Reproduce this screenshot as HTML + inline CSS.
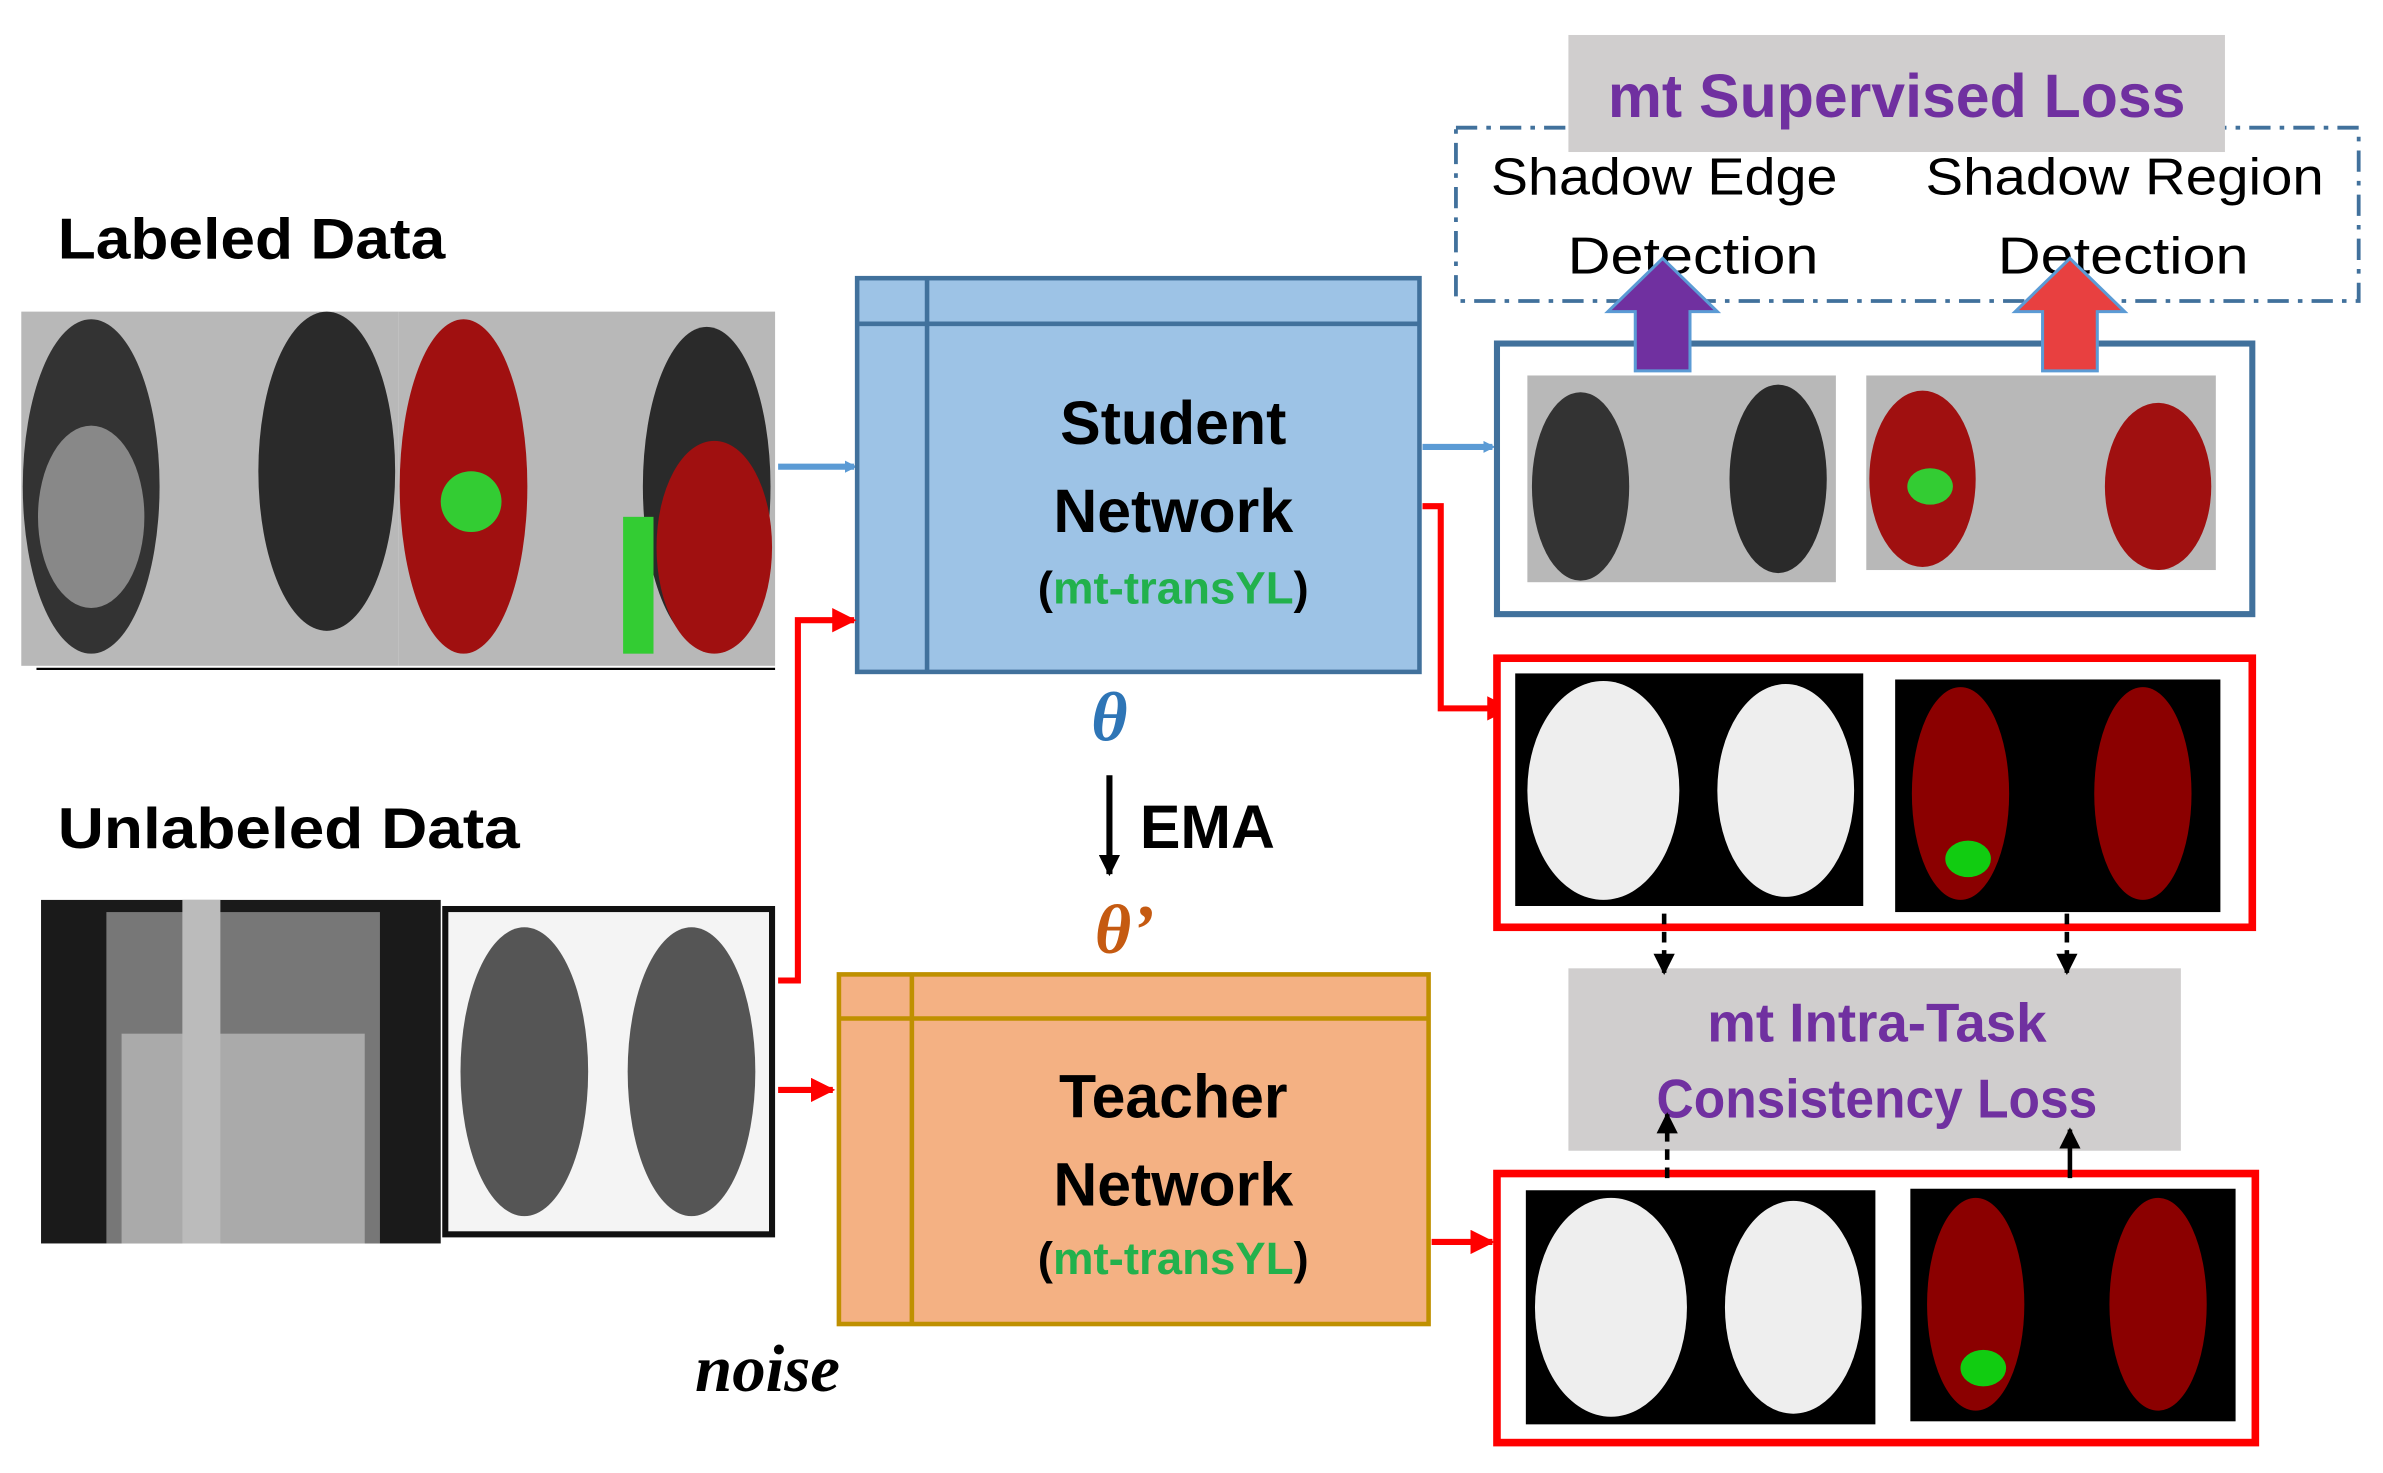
<!DOCTYPE html>
<html><head><meta charset="utf-8"><style>html,body{margin:0;padding:0;background:#fff;}svg{display:block}</style></head>
<body>
<svg width="2383" height="1473" viewBox="0 0 1568 969" preserveAspectRatio="none" xmlns="http://www.w3.org/2000/svg" font-family="Liberation Sans, sans-serif">
<defs>
<marker id="ab" markerWidth="8" markerHeight="8" refX="6" refY="4" orient="auto" markerUnits="userSpaceOnUse"><path d="M0,0 L8,4 L0,8z" fill="#5b9bd5"/></marker>
<marker id="ar" viewBox="0 0 10 10" markerWidth="16" markerHeight="16" refX="9" refY="5" orient="auto" markerUnits="userSpaceOnUse"><path d="M0,0 L10,5 L0,10z" fill="#f00"/></marker>
<marker id="ak" viewBox="0 0 10 10" markerWidth="14" markerHeight="14" refX="9" refY="5" orient="auto" markerUnits="userSpaceOnUse"><path d="M0,0 L10,5 L0,10z" fill="#000"/></marker>
</defs>
<text x="38" y="170" font-size="38" font-weight="bold" textLength="255" lengthAdjust="spacingAndGlyphs">Labeled Data</text>
<rect x="14" y="205" width="248" height="233" fill="#b8b8b8"/>
<ellipse cx="60" cy="320" rx="45" ry="110" fill="#333"/><ellipse cx="215" cy="310" rx="45" ry="105" fill="#2a2a2a"/>
<ellipse cx="60" cy="340" rx="35" ry="60" fill="#888"/>
<rect x="262" y="205" width="248" height="233" fill="#b8b8b8"/>
<ellipse cx="305" cy="320" rx="42" ry="110" fill="#a01010"/><ellipse cx="465" cy="320" rx="42" ry="105" fill="#2a2a2a"/>
<ellipse cx="470" cy="360" rx="38" ry="70" fill="#a01010"/>
<ellipse cx="310" cy="330" rx="20" ry="20" fill="#3c3"/><rect x="410" y="340" width="20" height="90" fill="#3c3"/>
<line x1="24" y1="440" x2="510" y2="440" stroke="#000" stroke-width="1.5"/>
<line x1="512" y1="307" x2="562" y2="307" stroke="#5b9bd5" stroke-width="4" marker-end="url(#ab)"/>
<rect x="564" y="183" width="370" height="259" fill="#9dc3e6" stroke="#41719c" stroke-width="3"/>
<line x1="610" y1="183" x2="610" y2="442" stroke="#41719c" stroke-width="3"/>
<line x1="564" y1="213" x2="934" y2="213" stroke="#41719c" stroke-width="3"/>
<text x="772" y="292" font-size="40" font-weight="bold" text-anchor="middle">Student</text>
<text x="772" y="350" font-size="40" font-weight="bold" text-anchor="middle">Network</text>
<text x="772" y="397" font-size="30" font-weight="bold" text-anchor="middle">(<tspan fill="#22b14c">mt-transYL</tspan>)</text>
<text x="730" y="487" font-size="46" font-style="italic" font-weight="bold" fill="#2e75b6" text-anchor="middle" font-family="Liberation Serif, serif">θ</text>
<line x1="730" y1="510" x2="730" y2="575" stroke="#000" stroke-width="4" marker-end="url(#ak)"/>
<text x="750" y="558" font-size="40" font-weight="bold">EMA</text>
<text x="740" y="627" font-size="46" font-style="italic" font-weight="bold" fill="#c55a11" text-anchor="middle" font-family="Liberation Serif, serif">θ’</text>
<rect x="552" y="641" width="388" height="230" fill="#f4b183" stroke="#bf9000" stroke-width="3"/>
<line x1="600" y1="641" x2="600" y2="871" stroke="#bf9000" stroke-width="3"/>
<line x1="552" y1="670" x2="940" y2="670" stroke="#bf9000" stroke-width="3"/>
<text x="772" y="735" font-size="40" font-weight="bold" text-anchor="middle">Teacher</text>
<text x="772" y="793" font-size="40" font-weight="bold" text-anchor="middle">Network</text>
<text x="772" y="838" font-size="30" font-weight="bold" text-anchor="middle">(<tspan fill="#22b14c">mt-transYL</tspan>)</text>
<text x="505" y="915" font-size="44" font-style="italic" font-weight="bold" text-anchor="middle" font-family="Liberation Serif, serif">noise</text>
<text x="38" y="558" font-size="38" font-weight="bold" textLength="304" lengthAdjust="spacingAndGlyphs">Unlabeled Data</text>
<rect x="27" y="592" width="263" height="226" fill="#1a1a1a"/>
<rect x="70" y="600" width="180" height="218" fill="#777"/><rect x="80" y="680" width="160" height="138" fill="#aaa"/>
<rect x="120" y="592" width="25" height="226" fill="#bbb"/>
<rect x="293" y="598" width="215" height="214" fill="#f4f4f4" stroke="#111" stroke-width="4"/>
<ellipse cx="345" cy="705" rx="42" ry="95" fill="#555"/><ellipse cx="455" cy="705" rx="42" ry="95" fill="#555"/>
<polyline points="512,645 525,645 525,408 562,408" fill="none" stroke="#f00" stroke-width="4" marker-end="url(#ar)"/>
<line x1="512" y1="717" x2="548" y2="717" stroke="#f00" stroke-width="4" marker-end="url(#ar)"/>
<line x1="936" y1="294" x2="982" y2="294" stroke="#5b9bd5" stroke-width="4" marker-end="url(#ab)"/>
<polyline points="936,333 948,333 948,466 993,466" fill="none" stroke="#f00" stroke-width="4" marker-end="url(#ar)"/>
<line x1="942" y1="817" x2="982" y2="817" stroke="#f00" stroke-width="4" marker-end="url(#ar)"/>
<rect x="985" y="226" width="497" height="178" fill="#fff" stroke="#41719c" stroke-width="4"/>
<rect x="1005" y="247" width="203" height="136" fill="#b8b8b8"/>
<ellipse cx="1040" cy="320" rx="32" ry="62" fill="#333"/><ellipse cx="1170" cy="315" rx="32" ry="62" fill="#2a2a2a"/>
<rect x="1228" y="247" width="230" height="128" fill="#b8b8b8"/>
<ellipse cx="1265" cy="315" rx="35" ry="58" fill="#a01010"/><ellipse cx="1420" cy="320" rx="35" ry="55" fill="#a01010"/>
<ellipse cx="1270" cy="320" rx="15" ry="12" fill="#3c3"/>
<rect x="985" y="433" width="497" height="177" fill="#fff" stroke="#f00" stroke-width="5"/>
<rect x="997" y="443" width="229" height="153" fill="#000"/>
<ellipse cx="1055" cy="520" rx="50" ry="72" fill="#eee"/><ellipse cx="1175" cy="520" rx="45" ry="70" fill="#eee"/>
<rect x="1247" y="447" width="214" height="153" fill="#000"/>
<ellipse cx="1290" cy="522" rx="32" ry="70" fill="#8b0000"/><ellipse cx="1410" cy="522" rx="32" ry="70" fill="#8b0000"/>
<ellipse cx="1295" cy="565" rx="15" ry="12" fill="#1c1"/>
<rect x="985" y="772" width="499" height="177" fill="#fff" stroke="#f00" stroke-width="5"/>
<rect x="1004" y="783" width="230" height="154" fill="#000"/>
<ellipse cx="1060" cy="860" rx="50" ry="72" fill="#eee"/><ellipse cx="1180" cy="860" rx="45" ry="70" fill="#eee"/>
<rect x="1257" y="782" width="214" height="153" fill="#000"/>
<ellipse cx="1300" cy="858" rx="32" ry="70" fill="#8b0000"/><ellipse cx="1420" cy="858" rx="32" ry="70" fill="#8b0000"/>
<ellipse cx="1305" cy="900" rx="15" ry="12" fill="#1c1"/>
<rect x="958" y="84" width="594" height="114" fill="none" stroke="#41719c" stroke-width="2.5" stroke-dasharray="14,6,3,6"/>
<rect x="1032" y="23" width="432" height="77" fill="#d0cece"/>
<text x="1248" y="77" font-size="40" font-weight="bold" fill="#7030a0" text-anchor="middle">mt Supervised Loss</text>
<text x="1095" y="128" font-size="34" text-anchor="middle" textLength="228" lengthAdjust="spacingAndGlyphs">Shadow Edge</text>
<text x="1114" y="180" font-size="34" text-anchor="middle" textLength="165" lengthAdjust="spacingAndGlyphs">Detection</text>
<text x="1398" y="128" font-size="34" text-anchor="middle" textLength="262" lengthAdjust="spacingAndGlyphs">Shadow Region</text>
<text x="1397" y="180" font-size="34" text-anchor="middle" textLength="165" lengthAdjust="spacingAndGlyphs">Detection</text>
<path d="M1076,244 L1076,205 L1058,205 L1094,170 L1130,205 L1112,205 L1112,244z" fill="#7030a0" stroke="#5b9bd5" stroke-width="2"/>
<path d="M1344,244 L1344,205 L1326,205 L1362,170 L1398,205 L1380,205 L1380,244z" fill="#e84040" stroke="#5b9bd5" stroke-width="2"/>
<rect x="1032" y="637" width="403" height="120" fill="#d0cece"/>
<text x="1235" y="685" font-size="36" font-weight="bold" fill="#7030a0" text-anchor="middle">mt Intra-Task</text>
<text x="1235" y="735" font-size="36" font-weight="bold" fill="#7030a0" text-anchor="middle" textLength="290" lengthAdjust="spacingAndGlyphs">Consistency Loss</text>
<line x1="1095" y1="601" x2="1095" y2="640" stroke="#000" stroke-width="3" stroke-dasharray="7,5" marker-end="url(#ak)"/>
<line x1="1360" y1="601" x2="1360" y2="640" stroke="#000" stroke-width="3" stroke-dasharray="7,5" marker-end="url(#ak)"/>
<line x1="1097" y1="775" x2="1097" y2="733" stroke="#000" stroke-width="3" stroke-dasharray="7,5" marker-end="url(#ak)"/>
<line x1="1362" y1="775" x2="1362" y2="743" stroke="#000" stroke-width="3" marker-end="url(#ak)"/>
</svg>
</body></html>
